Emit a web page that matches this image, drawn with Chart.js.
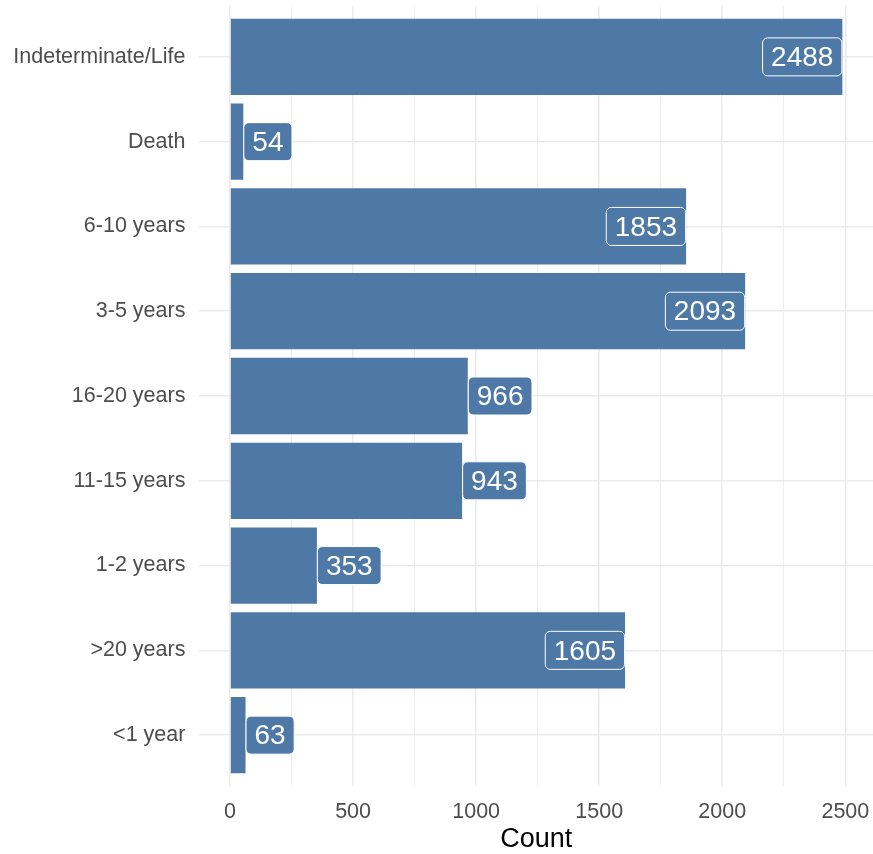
<!DOCTYPE html>
<html>
<head>
<meta charset="utf-8">
<script src="https://cdn.jsdelivr.net/npm/chart.js@4.4.0/dist/chart.umd.min.js"></script>
<style>
  html, body { margin: 0; padding: 0; background: #ffffff; }
  #wrap { width: 873px; height: 854px; position: relative; }
</style>
</head>
<body>
<div id="wrap"><canvas id="chart"></canvas></div>
<script>
const categories = [
  "Indeterminate/Life",
  "Death",
  "6-10 years",
  "3-5 years",
  "16-20 years",
  "11-15 years",
  "1-2 years",
  ">20 years",
  "<1 year",
];
const counts = [2488, 54, 1853, 2093, 966, 943, 353, 1605, 63];
const xTicks = [0, 250, 500, 750, 1000, 1250, 1500, 1750, 2000, 2250, 2500];

const barColor = "#4E79A7";
const gridColor = "#EBEBEB";
const fontFamily = "'Liberation Sans', Arial, sans-serif";

function noPad(scale) {
  scale.paddingLeft = 0;
  scale.paddingRight = 0;
  scale.paddingTop = 0;
  scale.paddingBottom = 0;
}

// value labels, boxed like ggplot geom_label
const labelPlugin = {
  id: "countLabels",
  afterDatasetsDraw(chart) {
    const { ctx } = chart;
    const meta = chart.getDatasetMeta(0);
    ctx.save();
    ctx.font = "28px " + fontFamily;
    ctx.textAlign = "center";
    ctx.textBaseline = "middle";
    meta.data.forEach((bar, i) => {
      const val = counts[i];
      const txt = String(val);
      const w = ctx.measureText(txt).width + 18;
      const h = 39;
      const x0 = val > 1000 ? bar.x - w : bar.x;
      const y0 = bar.y - h / 2;
      ctx.beginPath();
      ctx.roundRect(x0 + 0.5, y0 + 0.5, w - 1, h - 1, 5);
      ctx.fillStyle = barColor;
      ctx.fill();
      ctx.lineWidth = 1;
      ctx.strokeStyle = "#ffffff";
      ctx.stroke();
      ctx.fillStyle = "#ffffff";
      ctx.fillText(txt, x0 + w / 2, bar.y + 1.5);
    });
    ctx.restore();
  },
};

new Chart(document.getElementById("chart"), {
  type: "bar",
  plugins: [labelPlugin],
  data: {
    datasets: [
      {
        data: counts.map((v, i) => ({ x: v, y: i })),
        backgroundColor: barColor,
        borderWidth: 0,
        barPercentage: 0.9,
        categoryPercentage: 1,
      },
    ],
  },
  options: {
    indexAxis: "y",
    responsive: true,
    maintainAspectRatio: false,
    animation: false,
    layout: { padding: { top: 6, right: 0, left: 0, bottom: 0 } },
    plugins: {
      legend: { display: false },
      tooltip: { enabled: false },
    },
    scales: {
      x: {
        type: "linear",
        min: -124.4,
        max: 2612.4,
        offset: false,
        afterBuildTicks: (scale) => {
          scale.ticks = xTicks.map((v) => ({ value: v }));
        },
        afterFit: (scale) => {
          scale.height = 68;
          noPad(scale);
        },
        border: { display: false },
        grid: {
          color: gridColor,
          lineWidth: (c) => (c.tick && c.tick.value % 500 === 0 ? 1.6 : 0.9),
          drawTicks: false,
          offset: false,
        },
        ticks: {
          padding: 13,
          color: "#4D4D4D",
          font: { family: fontFamily, size: 21.5 },
          maxRotation: 0,
          autoSkip: false,
          callback: (v) => (v % 500 === 0 ? v : ""),
        },
        title: {
          display: true,
          text: "Count",
          color: "#000000",
          font: { family: fontFamily, size: 27, lineHeight: 1.05 },
          padding: { top: 0, bottom: 0 },
        },
      },
      y: {
        type: "linear",
        reverse: true,
        min: -0.6,
        max: 8.6,
        offset: false,
        afterBuildTicks: (scale) => {
          scale.ticks = categories.map((c, i) => ({ value: i }));
        },
        afterFit: (scale) => {
          scale.width = 199.4;
          noPad(scale);
        },
        border: { display: false },
        grid: {
          color: gridColor,
          lineWidth: 1.6,
          drawTicks: false,
          offset: false,
        },
        ticks: {
          padding: 14,
          color: "#4D4D4D",
          font: { family: fontFamily, size: 21.5 },
          autoSkip: false,
          callback: (v) => categories[v],
        },
      },
    },
  },
});
</script>
</body>
</html>
